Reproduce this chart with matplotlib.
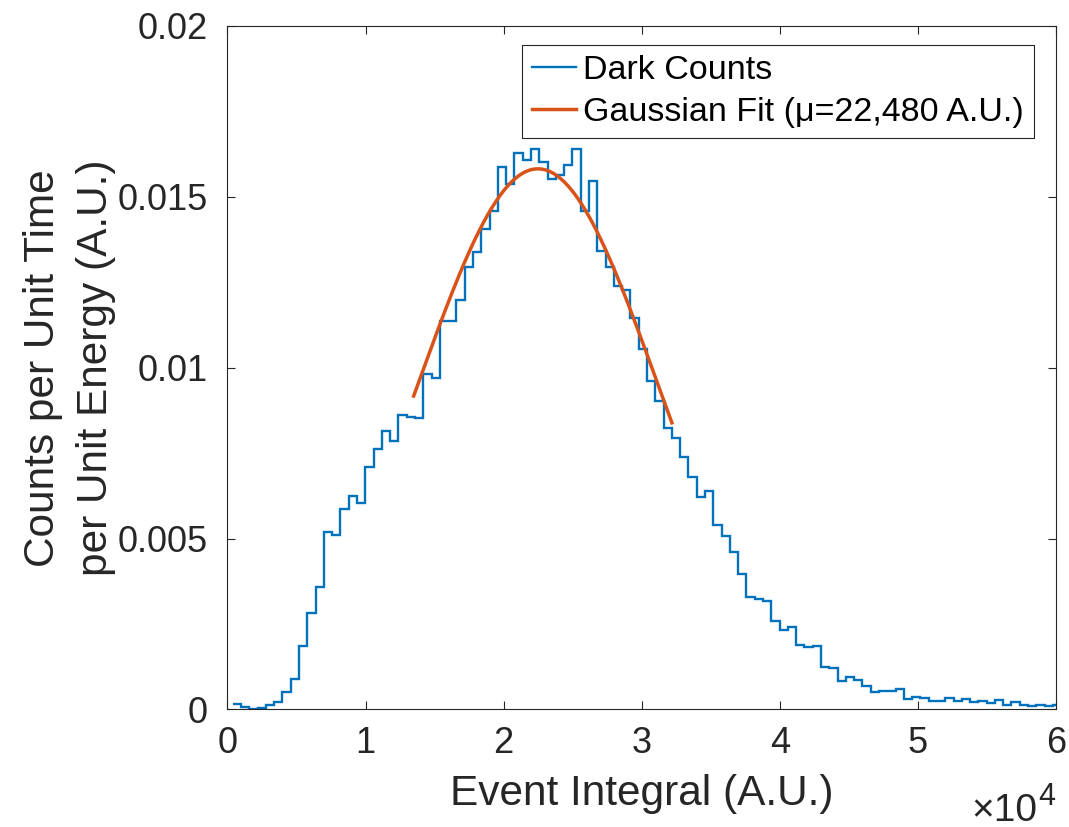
import numpy as np
import matplotlib
matplotlib.use("Agg")
import matplotlib.pyplot as plt
import matplotlib.ticker as ticker

plt.rcParams.update({
    "font.family": "Liberation Sans",
    "mathtext.fontset": "custom",
    "mathtext.rm": "Liberation Sans",
    "mathtext.it": "Liberation Sans",
})

TXT = "#262626"
BLUE = "#0072BD"
ORANGE = "#D95319"

# histogram: 100 bins of width 600, first edge at 380
bin_start = 380
bin_width = 600
counts = [
    0.00016, 0.00008, 0.00002, 0.00003, 0.00012, 0.00022, 0.00051, 0.00090, 0.00186, 0.00282,
    0.00358, 0.00518, 0.00510, 0.00586, 0.00625, 0.00604, 0.00709, 0.00762, 0.00815, 0.00787,
    0.00862, 0.00857, 0.00854, 0.00982, 0.00971, 0.01137, 0.01138, 0.01199, 0.01295, 0.01340,
    0.01406, 0.01459, 0.01586, 0.01537, 0.01629, 0.01609, 0.01640, 0.01601, 0.01552, 0.01564,
    0.01593, 0.01640, 0.01459, 0.01547, 0.01343, 0.01295, 0.01238, 0.01226, 0.01146, 0.01055,
    0.00961, 0.00902, 0.00824, 0.00793, 0.00740, 0.00681, 0.00621, 0.00640, 0.00539, 0.00508,
    0.00461, 0.00397, 0.00328, 0.00323, 0.00317, 0.00258, 0.00233, 0.00242, 0.00188, 0.00182,
    0.00186, 0.00125, 0.00122, 0.00083, 0.00094, 0.00087, 0.00069, 0.00051, 0.00055, 0.00053,
    0.00059, 0.00032, 0.00036, 0.00034, 0.00026, 0.00026, 0.00034, 0.00026, 0.00030, 0.00022,
    0.00024, 0.00018, 0.00028, 0.00012, 0.00022, 0.00012, 0.00010, 0.00012, 0.00009, 0.00014,
]

# gaussian fit parameters
fit_mu = 22480
fit_sigma = 8617
fit_amp = 0.01582
fit_range = (13483, 32187)

edges = bin_start + bin_width * np.arange(len(counts) + 1)
xf = np.linspace(fit_range[0], fit_range[1], 200)
yf = fit_amp * np.exp(-(xf - fit_mu) ** 2 / (2 * fit_sigma ** 2))

fig = plt.figure(figsize=(10.69, 8.27), dpi=100)
ax = fig.add_axes([0.2128, 0.1421, 0.7750, 0.8265])

ax.stairs(counts, edges, baseline=None, color=BLUE, linewidth=1.7, label="Dark Counts")
ax.plot(xf, yf, color=ORANGE, linewidth=2.5, label="Gaussian Fit (\u03bc=22,480 A.U.)")

ax.set_xlim(0, 60000)
ax.set_ylim(0, 0.02)
ax.set_xticks(np.arange(0, 60001, 10000))
ax.set_yticks([0, 0.005, 0.01, 0.015, 0.02])
ax.xaxis.set_major_formatter(ticker.FuncFormatter(lambda v, p: f"{v / 1e4:g}"))
ax.yaxis.set_major_formatter(ticker.FuncFormatter(lambda v, p: f"{v:g}"))

for s in ax.spines.values():
    s.set_color(TXT)
    s.set_linewidth(0.8)
ax.tick_params(axis="both", direction="in", length=5.8, width=0.8, color=TXT,
               labelsize=26, labelcolor=TXT, top=True, right=True)
ax.tick_params(axis="x", pad=12)
ax.tick_params(axis="y", pad=14)

ax.set_xlabel("Event Integral (A.U.)", fontsize=30.5, color=TXT)
ax.xaxis.set_label_coords(0.5, -0.095)
ax.set_ylabel("Counts per Unit Time\nper Unit Energy (A.U.)", fontsize=30.5, color=TXT,
              linespacing=1.4)
ax.yaxis.set_label_coords(-0.135, 0.5)

fig.text(1037 / 1069, 1 - 821 / 827, "\u00d710", fontsize=28, color=TXT,
         ha="right", va="baseline")
fig.text(1038 / 1069, 1 - 805 / 827, "4", fontsize=22, color=TXT,
         ha="left", va="baseline")

leg = ax.legend(loc="upper right", bbox_to_anchor=(0.9734, 0.9726), borderaxespad=0,
                fontsize=24.5, handlelength=1.3, handletextpad=0.2, labelspacing=0.32,
                borderpad=0.3, fancybox=False, framealpha=1)
leg.get_frame().set_edgecolor(TXT)
leg.get_frame().set_linewidth(0.8)
for t in leg.get_texts():
    t.set_color("black")

fig.savefig("out.png", dpi=100)
